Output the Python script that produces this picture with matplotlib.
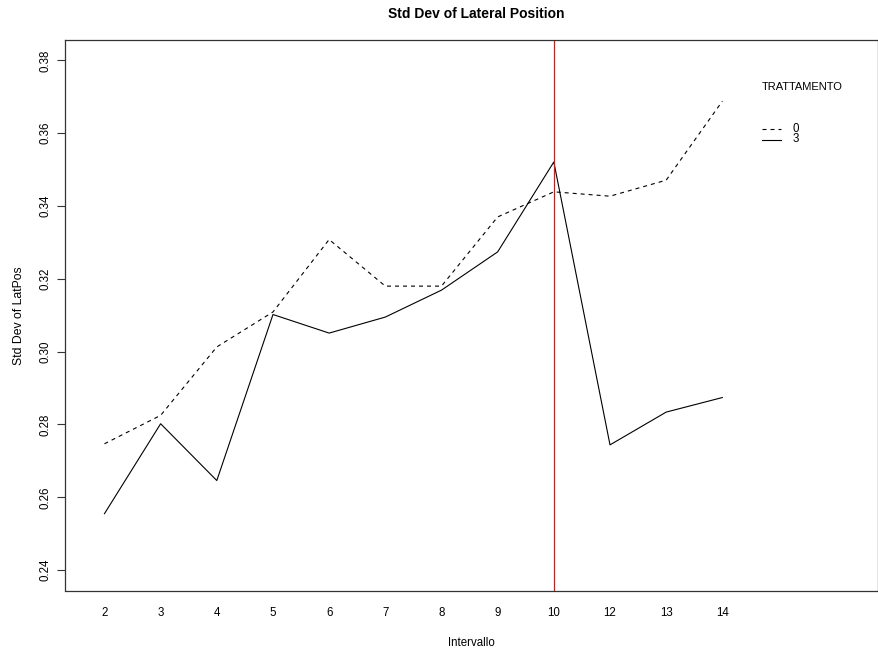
import matplotlib
matplotlib.use("Agg")
import matplotlib.pyplot as plt
from matplotlib.lines import Line2D

plt.rcParams['font.family'] = ['Liberation Sans', 'DejaVu Sans']

intervals = ["2", "3", "4", "5", "6", "7", "8", "9", "10", "12", "13", "14"]
tratt_0 = [0.2747, 0.2825, 0.3013, 0.3109, 0.3308, 0.3180, 0.3180, 0.3370, 0.3439, 0.3427, 0.3471, 0.3688]
tratt_3 = [0.2555, 0.2802, 0.2646, 0.3102, 0.3051, 0.3095, 0.3169, 0.3274, 0.3521, 0.2744, 0.2834, 0.2874]
yticks = [0.24, 0.26, 0.28, 0.30, 0.32, 0.34, 0.36, 0.38]
vline_interval = "10"

W, H = 879, 651
fig = plt.figure(figsize=(W / 100, H / 100), dpi=100)
fig.patch.set_facecolor("white")

l, r, t, b = 65, 878.5, 40, 590.5
ax = fig.add_axes([l / W, 1 - b / H, (r - l) / W, (b - t) / H])

pos = list(range(1, len(intervals) + 1))
ax.plot(pos, tratt_0, color="black", lw=0.8, linestyle=(0, (3.6, 3.6)))
ax.plot(pos, tratt_3, color="black", lw=0.8)
ax.axvline(intervals.index(vline_interval) + 1, color="#b02828", lw=0.9)

ax.set_xlim(0.2975, 14.78)
ax.set_ylim(0.2344, 0.3856)

ax.set_xticks(pos)
ax.set_xticklabels(intervals, fontsize=8.3)
ax.tick_params(axis="x", length=0, pad=12)
ax.set_yticks(yticks)
ax.set_yticklabels([f"{v:.2f}" for v in yticks], fontsize=8.3, rotation=90, va="center")
ax.tick_params(axis="y", length=5.5, width=0.8, pad=4, color="#333333")

for s in ax.spines.values():
    s.set_linewidth(0.9)
    s.set_color("#333333")

ax.set_xlabel("Intervallo", fontsize=8.3, labelpad=13)
ax.set_ylabel("Std Dev of LatPos", fontsize=8.8, labelpad=11)
fig.text(476 / W, 1 - 13.5 / H, "Std Dev of Lateral Position", fontsize=10,
         fontweight="bold", ha="center", va="center")

# legend
fig.text(762 / W, 1 - 87 / H, "TRATTAMENTO", fontsize=8, ha="left", va="center")
for ly, ls, lab in [(128.5, (0, (3.6, 3.6)), "0"), (139.5, "-", "3")]:
    fig.add_artist(Line2D([762 / W, 781 / W], [1 - ly / H, 1 - ly / H],
                          color="black", lw=0.8, linestyle=ls, transform=fig.transFigure))
    fig.text(793 / W, 1 - ly / H, lab, fontsize=8.3, ha="left", va="center")

fig.savefig("out.png", dpi=100, facecolor="white")
